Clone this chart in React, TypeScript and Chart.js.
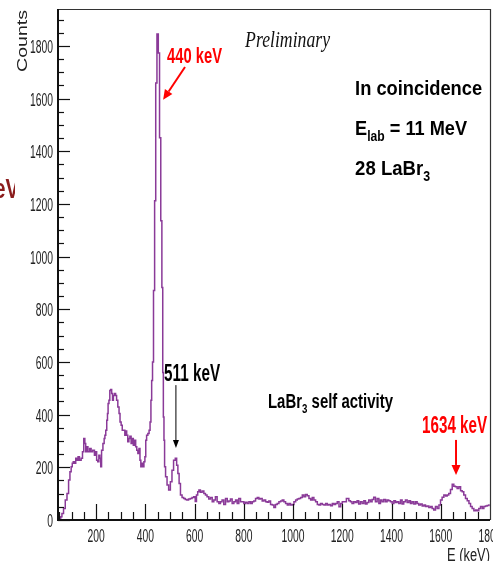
import React, { useEffect, useRef } from 'react';
import { Chart, registerables } from 'chart.js';

Chart.register(...registerables);

// ---- data (energy bins in keV, counts) ----
const energyKeV = [
  45, 50, 55, 58, 64, 71, 78, 85, 91, 96, 101, 105, 109, 115, 119, 125, 128, 136, 142, 147,
  152, 156, 159, 163, 170, 177, 182, 190, 196, 200, 204, 209, 213, 217, 220, 224, 231, 234, 237, 241,
  245, 247, 250, 254, 257, 261, 265, 268, 272, 277, 281, 285, 291, 295, 299, 304, 308, 315, 318, 322,
  326, 331, 335, 339, 345, 349, 353, 358, 363, 367, 372, 376, 380, 383, 387, 392, 396, 400, 403, 407,
  413, 417, 421, 424, 427, 431, 435, 440, 444, 450, 455, 460, 465, 469, 472, 474, 477, 479, 485, 491,
  498, 505, 511, 518, 525, 529, 535, 539, 546, 552, 559, 565, 572, 579, 586, 593, 600, 605, 610, 615,
  620, 627, 634, 641, 647, 654, 661, 668, 675, 681, 688, 695, 702, 708, 715, 722, 729, 736, 742, 749,
  756, 763, 770, 776, 783, 790, 797, 803, 810, 817, 824, 831, 837, 844, 851, 858, 864, 871, 878, 885,
  892, 898, 905, 912, 919, 925, 932, 939, 946, 953, 959, 966, 973, 980, 986, 993, 1000, 1007, 1014, 1020,
  1027, 1034, 1041, 1047, 1054, 1061, 1068, 1075, 1081, 1088, 1095, 1102, 1108, 1115, 1122, 1129, 1136, 1142, 1149, 1156,
  1163, 1169, 1176, 1183, 1190, 1197, 1203, 1210, 1223, 1230, 1236, 1243, 1250, 1257, 1263, 1270, 1277, 1284, 1291, 1297,
  1304, 1311, 1318, 1324, 1331, 1338, 1345, 1352, 1358, 1365, 1372, 1379, 1385, 1392, 1399, 1406, 1413, 1419, 1426, 1433,
  1440, 1446, 1453, 1460, 1467, 1474, 1480, 1487, 1494, 1501, 1507, 1514, 1521, 1528, 1535, 1541, 1548, 1555, 1562, 1568,
  1575, 1582, 1589, 1596, 1602, 1609, 1616, 1623, 1629, 1636, 1643, 1650, 1656, 1663, 1670, 1677, 1684, 1690, 1697, 1704,
  1711, 1718, 1724, 1731, 1738, 1745, 1751, 1758, 1765, 1772, 1778, 1785, 1792, 1799,
];

const counts = [
  0, 3, 8, 12, 25, 44, 76, 101, 152, 183, 202, 215, 221, 215, 234, 227, 240, 227, 234, 259,
  309, 290, 259, 278, 259, 271, 259, 265, 246, 259, 227, 221, 246, 234, 202, 265, 290, 309, 322, 341,
  379, 404, 442, 455, 492, 495, 480, 455, 473, 480, 473, 455, 429, 404, 372, 360, 341, 341, 322, 338,
  322, 297, 309, 318, 290, 309, 284, 303, 278, 265, 252, 271, 227, 202, 215, 202, 221, 240, 303, 322,
  328, 341, 372, 455, 530, 600, 871, 1212, 1659, 1845, 1773, 1451, 1136, 883, 560, 391, 303, 202, 164, 133,
  114, 145, 189, 227, 234, 208, 177, 139, 95, 85, 82, 78, 76, 80, 82, 85, 88, 70, 95, 107,
  114, 105, 110, 101, 95, 88, 80, 85, 69, 76, 88, 69, 63, 69, 76, 59, 82, 69, 72, 80,
  63, 69, 76, 63, 82, 69, 69, 63, 67, 63, 69, 63, 69, 72, 82, 85, 80, 82, 72, 76,
  69, 67, 72, 59, 57, 47, 59, 63, 69, 72, 76, 69, 63, 57, 63, 57, 59, 69, 76, 80,
  82, 85, 95, 88, 97, 92, 82, 76, 85, 76, 69, 59, 57, 63, 59, 57, 63, 57, 59, 54,
  63, 59, 63, 69, 50, 63, 69, 69, 82, 73, 69, 63, 69, 66, 73, 61, 69, 63, 73, 61,
  66, 76, 69, 78, 86, 69, 82, 63, 76, 69, 78, 69, 76, 73, 69, 63, 73, 66, 69, 63,
  76, 61, 69, 76, 66, 73, 63, 69, 61, 69, 63, 57, 61, 53, 57, 51, 53, 47, 51, 44,
  38, 51, 44, 57, 76, 86, 95, 91, 95, 101, 116, 136, 128, 126, 120, 126, 111, 107, 95, 82,
  73, 63, 51, 44, 35, 38, 35, 44, 51, 44, 51, 53, 55, 57,
];

const yTickValues = [0, 200, 400, 600, 800, 1000, 1200, 1400, 1600, 1800];
const xTickValues = [200, 400, 600, 800, 1000, 1200, 1400, 1600, 1800];

// ---- styling ----
const SANS = "'Liberation Sans', Arial, Helvetica, sans-serif";
const SERIF = "'Liberation Serif', 'Times New Roman', serif";
const LINE_COLOR = '#8a3a98';
const RED = '#ff0000';

type Seg = { t: string; size: number; dy?: number };
type Note = {
  segs: Seg[];
  kev: number;
  cnt: number;
  width: number;
  color: string;
  bold?: boolean;
  italic?: boolean;
  family?: string;
};

// text anchors in data coordinates (left edge, baseline)
const notes: Note[] = [
  { segs: [{ t: 'Preliminary', size: 24 }], kev: 805, cnt: 1796, width: 85, color: '#111', italic: true, family: SERIF },
  { segs: [{ t: 'In coincidence', size: 21 }], kev: 1252, cnt: 1613, width: 127, color: '#000', bold: true },
  { segs: [{ t: 'E', size: 21 }, { t: 'lab', size: 14, dy: 6 }, { t: ' = 11 MeV', size: 21 }], kev: 1252, cnt: 1462, width: 112, color: '#000', bold: true },
  { segs: [{ t: '28 LaBr', size: 21 }, { t: '3', size: 14, dy: 6 }], kev: 1252, cnt: 1310, width: 75, color: '#000', bold: true },
  { segs: [{ t: '440 keV', size: 22 }], kev: 488, cnt: 1735, width: 55, color: RED, bold: true },
  { segs: [{ t: '511 keV', size: 24 }], kev: 476, cnt: 528, width: 56, color: '#000', bold: true },
  { segs: [{ t: 'LaBr', size: 20 }, { t: '3', size: 13, dy: 5 }, { t: ' self activity', size: 20 }], kev: 898, cnt: 425, width: 125, color: '#000', bold: true },
  { segs: [{ t: '1634 keV', size: 24 }], kev: 1524, cnt: 330, width: 65, color: RED, bold: true },
];

type Arrow = { k1: number; c1: number; k2: number; c2: number; color: string; lw: number; head: number; hw: number };
const arrows: Arrow[] = [
  { k1: 561, c1: 1720, k2: 472, c2: 1595, color: RED, lw: 2, head: 10, hw: 4.5 },
  { k1: 524, c1: 512, k2: 524, c2: 273, color: '#000', lw: 1, head: 8, hw: 3 },
  { k1: 1662, c1: 304, k2: 1662, c2: 171, color: RED, lw: 2, head: 10, hw: 4.5 },
];

function drawRich(
  ctx: CanvasRenderingContext2D,
  segs: Seg[],
  x: number,
  y: number,
  o: { bold?: boolean; italic?: boolean; family?: string; color: string; width?: number; align?: 'left' | 'center' | 'right'; sx?: number }
) {
  const fam = o.family || SANS;
  const fontFor = (s: Seg) => `${o.italic ? 'italic ' : ''}${o.bold ? 'bold ' : ''}${s.size}px ${fam}`;
  let nat = 0;
  for (const s of segs) {
    ctx.font = fontFor(s);
    nat += ctx.measureText(s.t).width;
  }
  const sx = o.width ? o.width / nat : o.sx || 1;
  const w = nat * sx;
  const align = o.align || 'left';
  const x0 = align === 'left' ? x : align === 'center' ? x - w / 2 : x - w;
  ctx.save();
  ctx.translate(x0, y);
  ctx.scale(sx, 1);
  ctx.fillStyle = o.color;
  ctx.textAlign = 'left';
  ctx.textBaseline = 'alphabetic';
  let cx = 0;
  for (const s of segs) {
    ctx.font = fontFor(s);
    ctx.fillText(s.t, cx, s.dy || 0);
    cx += ctx.measureText(s.t).width;
  }
  ctx.restore();
}

function drawArrow(ctx: CanvasRenderingContext2D, x1: number, y1: number, x2: number, y2: number, a: Arrow) {
  const ang = Math.atan2(y2 - y1, x2 - x1);
  const bx = x2 - Math.cos(ang) * a.head;
  const by = y2 - Math.sin(ang) * a.head;
  ctx.save();
  ctx.strokeStyle = a.color;
  ctx.fillStyle = a.color;
  ctx.lineWidth = a.lw;
  ctx.beginPath();
  ctx.moveTo(x1, y1);
  ctx.lineTo(bx, by);
  ctx.stroke();
  ctx.beginPath();
  ctx.moveTo(x2, y2);
  ctx.lineTo(bx + Math.sin(ang) * a.hw, by - Math.cos(ang) * a.hw);
  ctx.lineTo(bx - Math.sin(ang) * a.hw, by + Math.cos(ang) * a.hw);
  ctx.closePath();
  ctx.fill();
  ctx.restore();
}

const overlayPlugin = {
  id: 'overlay',
  afterDraw(chart: any) {
    const ctx: CanvasRenderingContext2D = chart.ctx;
    const a = chart.chartArea;
    const xs = chart.scales.x;
    const ys = chart.scales.y;
    ctx.save();

    // frame (top & right)
    ctx.strokeStyle = '#333';
    ctx.lineWidth = 1.2;
    ctx.beginPath();
    ctx.moveTo(a.left, a.top + 0.5);
    ctx.lineTo(a.right + 0.5, a.top + 0.5);
    ctx.lineTo(a.right + 0.5, a.bottom);
    ctx.stroke();

    // main axes
    ctx.strokeStyle = '#111';
    ctx.lineWidth = 2;
    ctx.beginPath();
    ctx.moveTo(a.left, a.top);
    ctx.lineTo(a.left, a.bottom);
    ctx.lineTo(a.right, a.bottom);
    ctx.stroke();

    // inside ticks
    ctx.lineWidth = 1.2;
    ctx.strokeStyle = '#111';
    const yMax = ys.max;
    for (let v = 0; v <= yMax; v += 50) {
      const py = Math.round(ys.getPixelForValue(v)) + 0.5;
      const len = v % 200 === 0 ? 12 : 6;
      ctx.beginPath();
      ctx.moveTo(a.left, py);
      ctx.lineTo(a.left + len, py);
      ctx.stroke();
    }
    for (let v = 50; v < xs.max; v += 50) {
      if (v < xs.min) continue;
      const px = Math.round(xs.getPixelForValue(v)) + 0.5;
      const len = v % 200 === 0 ? 16 : 8;
      ctx.beginPath();
      ctx.moveTo(px, a.bottom);
      ctx.lineTo(px, a.bottom - len);
      ctx.stroke();
    }

    // tick labels
    ctx.font = `18px ${SANS}`;
    const tickSx = 23 / ctx.measureText('1800').width;
    for (const v of yTickValues) {
      const py = ys.getPixelForValue(v);
      drawRich(ctx, [{ t: String(v), size: 18 }], a.left - 5, py + 7, { color: '#222', align: 'right', sx: tickSx });
    }
    for (const v of xTickValues) {
      const px = xs.getPixelForValue(v);
      drawRich(ctx, [{ t: String(v), size: 18 }], px, a.bottom + 22, { color: '#222', align: 'center', sx: tickSx });
    }

    // axis titles
    ctx.save();
    ctx.translate(27, 72);
    ctx.rotate(-Math.PI / 2);
    drawRich(ctx, [{ t: 'Counts', size: 14 }], 0, 0, { color: '#222', width: 62 });
    ctx.restore();
    drawRich(ctx, [{ t: 'E (keV)', size: 18 }], 447, 561, { color: '#222', width: 43 });

    // cropped slide text at left edge
    ctx.save();
    ctx.beginPath();
    ctx.rect(0, 0, 15, chart.height);
    ctx.clip();
    drawRich(ctx, [{ t: 'keV', size: 28 }], 19, 198, { color: '#8b1c1c', bold: true, align: 'right', sx: 0.72 });
    ctx.restore();

    // annotations
    for (const n of notes) {
      drawRich(ctx, n.segs, xs.getPixelForValue(n.kev), ys.getPixelForValue(n.cnt), {
        color: n.color,
        bold: n.bold,
        italic: n.italic,
        family: n.family,
        width: n.width,
      });
    }
    for (const ar of arrows) {
      drawArrow(
        ctx,
        xs.getPixelForValue(ar.k1),
        ys.getPixelForValue(ar.c1),
        xs.getPixelForValue(ar.k2),
        ys.getPixelForValue(ar.c2),
        ar
      );
    }
    ctx.restore();
  },
};

export default function App() {
  const canvasRef = useRef<HTMLCanvasElement | null>(null);

  useEffect(() => {
    const canvas = canvasRef.current;
    if (!canvas) return;
    const points = energyKeV.map((e, i) => ({ x: e, y: counts[i] }));
    const chart = new Chart(canvas, {
      type: 'line',
      data: {
        datasets: [
          {
            data: points,
            borderColor: LINE_COLOR,
            borderWidth: 1.5,
            pointRadius: 0,
            stepped: 'middle',
            fill: false,
          },
        ],
      },
      options: {
        responsive: false,
        animation: false,
        devicePixelRatio: 1,
        layout: { padding: { left: 0, top: 9, right: 3, bottom: 0 } },
        plugins: { legend: { display: false }, tooltip: { enabled: false }, title: { display: false } },
        scales: {
          x: {
            type: 'linear',
            min: 45,
            max: 1800,
            ticks: { display: false },
            grid: { display: false, drawTicks: false },
            border: { display: false },
            afterBuildTicks: (s: any) => {
              s.ticks = xTickValues.map((v) => ({ value: v }));
            },
            afterFit: (s: any) => {
              s.height = 41;
            },
          },
          y: {
            type: 'linear',
            min: 0,
            max: 1940,
            ticks: { display: false },
            grid: { display: false, drawTicks: false },
            border: { display: false },
            afterBuildTicks: (s: any) => {
              s.ticks = yTickValues.map((v) => ({ value: v }));
            },
            afterFit: (s: any) => {
              s.width = 58;
            },
          },
        },
      },
      plugins: [overlayPlugin],
    } as any);
    return () => chart.destroy();
  }, []);

  return (
    <div style={{ position: 'fixed', left: 0, top: 0, width: 493, height: 561, background: '#fff' }}>
      <canvas ref={canvasRef} width={493} height={561} style={{ display: 'block', width: 493, height: 561 }} />
    </div>
  );
}
